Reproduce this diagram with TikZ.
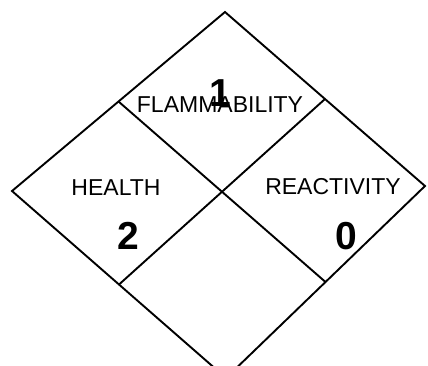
\documentclass[tikz,border=0pt]{standalone}
\usepackage{fontspec}
\setmainfont{Liberation Sans}
\usetikzlibrary{calc}

\begin{document}
\begin{tikzpicture}[
    x=1pt, y=-1pt,
    every node/.style={font=\rmfamily, align=center, text=black, inner sep=0pt},
    edge/.style={draw=black, line width=1.9pt, line join=miter},
    fieldLabel/.style={font=\fontsize{23}{26}\selectfont},
    rating/.style={font=\fontsize{39}{42}\selectfont\bfseries}
  ]
    \useasboundingbox (0,0) rectangle (428,365);
    \clip (0,0) rectangle (428,365);

    % outer corners of the diamond
    \coordinate (top) at (225,12);
    \coordinate (right) at (425,186);
    \coordinate (bottom) at (226,378);
    \coordinate (left) at (12,191);

    \coordinate (tl) at ($(top)!0.5!(left)$);
    \coordinate (tr) at ($(top)!0.5!(right)$);
    \coordinate (br) at ($(bottom)!0.5!(right)$);
    \coordinate (bl) at ($(bottom)!0.5!(left)$);

    \draw[edge] (top) -- (right) -- (bottom) -- (left) -- cycle;
    \draw[edge] (tl) -- (br);
    \draw[edge] (tr) -- (bl);

    \node[fieldLabel] (flamLabel) at (220,105) {FLAMMABILITY};
    \node[fieldLabel] (healthLabel) at (116,188) {HEALTH};
    \node[fieldLabel] (reactLabel) at (333,187) {REACTIVITY};

    \node[rating] (flamValue) at (220,93) {1};
    \node[rating] (healthValue) at (128,236) {2};
    \node[rating] (reactValue) at (346,236) {0};
  \end{tikzpicture}
\end{document}
